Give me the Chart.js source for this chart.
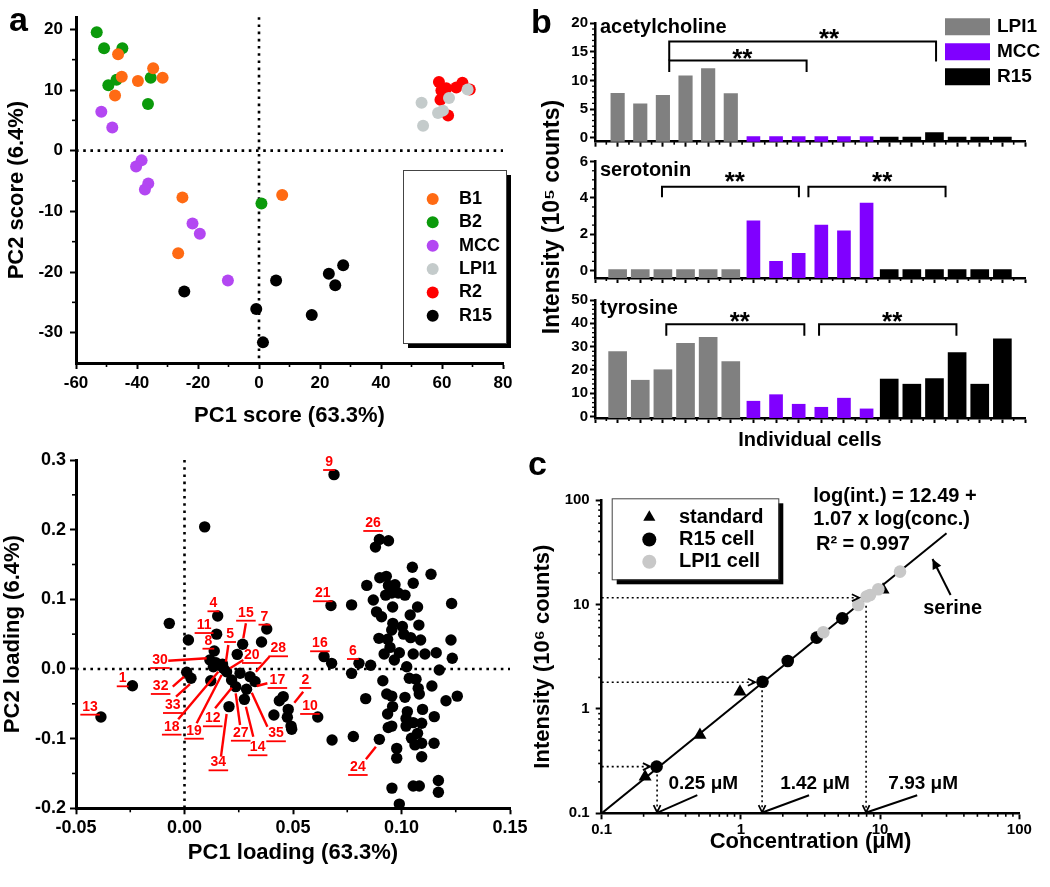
<!DOCTYPE html>
<html>
<head>
<meta charset="utf-8">
<script src="https://cdn.jsdelivr.net/npm/chart.js@4.4.1/dist/chart.umd.min.js"></script>
<style>
  body { margin: 0; background: #fff; }
  #fig { position: relative; width: 1050px; height: 887px; overflow: hidden; background: #fff; }
  #fig canvas { position: absolute; }
</style>
</head>
<body>
<div id="fig">
  <canvas id="scores" width="530" height="440" style="left:0px;top:0px"></canvas>
  <canvas id="ach" width="520" height="460" style="left:530px;top:0px"></canvas>
  <canvas id="ser" width="520" height="460" style="left:530px;top:0px"></canvas>
  <canvas id="tyr" width="520" height="460" style="left:530px;top:0px"></canvas>
  <canvas id="loading" width="540" height="457" style="left:0px;top:430px"></canvas>
  <canvas id="calib" width="530" height="457" style="left:520px;top:430px"></canvas>
</div>
<script>
// ---- panel a: PCA scores ----
const scoreGroups = ['B1', 'B2', 'MCC', 'LPI1', 'R2', 'R15'];
const scoreColors = ['#ff6a13', '#0b9a0b', '#b347f2', '#c4cbcb', '#ff0000', '#000000'];
const scoreB1 = [[-46.2, 15.9], [-45.0, 12.2], [-47.2, 9.1], [-39.7, 11.5], [-34.7, 13.6], [-31.6, 12.0], [-25.1, -7.7], [-26.5, -16.9], [7.6, -7.3]];
const scoreB2 = [[-53.2, 19.5], [-50.8, 16.9], [-44.8, 16.9], [-49.4, 10.8], [-46.7, 11.7], [-35.5, 12.0], [-36.4, 7.7], [0.8, -8.7]];
const scoreMCC = [[-51.7, 6.4], [-48.1, 3.8], [-40.3, -2.6], [-38.5, -1.6], [-36.3, -5.4], [-37.4, -6.4], [-21.8, -12.0], [-19.4, -13.7], [-10.2, -21.4]];
const scoreLPI1 = [[53.3, 7.9], [53.8, 4.1], [58.7, 6.2], [60.3, 6.6], [62.3, 8.7], [68.4, 10.1]];
const scoreR2 = [[59.0, 11.3], [59.8, 9.9], [59.5, 8.4], [61.4, 10.3], [62.0, 5.8], [64.7, 10.4], [66.7, 11.2], [69.1, 10.1]];
const scoreR15 = [[-24.5, -23.2], [-0.9, -26.1], [1.3, -31.6], [5.6, -21.4], [17.3, -27.1], [22.9, -20.3], [25.0, -22.2], [27.6, -18.9]];
const scoreXTicks = [-60, -40, -20, 0, 20, 40, 60, 80];
const scoreYTicks = [-30, -20, -10, 0, 10, 20];

// ---- panel b: single-cell intensities (10^5 counts) ----
const cellGroups = ['LPI1', 'MCC', 'R15'];
const cellColors = ['#808080', '#8000ff', '#000000'];
const achLPI1 = [7.75, 5.9, 7.4, 10.8, 12.1, 7.7];
const achMCC = [0.2, 0.2, 0.2, 0.2, 0.2, 0.2];
const achR15 = [0.1, 0.1, 0.9, 0.1, 0.1, 0.1];
const serLPI1 = [0.04, 0.04, 0.04, 0.04, 0.04, 0.04];
const serMCC = [2.73, 0.5, 0.94, 2.5, 2.18, 3.72];
const serR15 = [0.04, 0.04, 0.04, 0.04, 0.04, 0.04];
const tyrLPI1 = [27.9, 15.6, 20.1, 31.4, 34.0, 23.6];
const tyrMCC = [6.6, 9.4, 5.3, 4.0, 7.9, 3.3];
const tyrR15 = [16.1, 13.9, 16.3, 27.4, 13.9, 33.3];
const achTicks = [0, 5, 10, 15, 20];
const serTicks = [0, 2, 4, 6];
const tyrTicks = [0, 10, 20, 30, 40, 50];
const cellTicks = [0, 1, 2, 3, 4, 5, 6, 7, 8, 9, 10, 11, 12, 13, 14, 15, 16, 17, 18, 19];
// brackets: [x1, x2, y, left leg end, right leg end]; stars: [x, y]
const achBrackets = [[3.28, 15.07, 16.8, 13.5, 13.3], [3.28, 9.35, 13.5, 11.5, 11.5]];
const achStars = [[10.34, 18.5], [6.51, 15.0]];
const serBrackets = [[2.96, 9.01, 4.62, 4.04, 4.04], [9.43, 15.49, 4.62, 4.04, 4.04]];
const serStars = [[6.18, 5.27], [12.69, 5.27]];
const tyrBrackets = [[3.15, 9.25, 39.6, 34.7, 34.7], [9.9, 15.97, 39.6, 34.7, 34.7]];
const tyrStars = [[6.4, 43.7], [13.13, 43.7]];

// ---- loading plot ----
const loadingPoints = [
  [0.0689, 0.279], [0.0093, 0.204], [-0.0385, -0.069], [-0.024, -0.024], [-0.007, 0.0655], [0.0018, 0.0416],
  [0.0153, 0.076], [0.0148, 0.050], [0.0137, 0.0258], [0.0117, 0.013], [0.0379, 0.0574], [0.0355, 0.0387],
  [0.0268, 0.0354], [0.0243, 0.021], [0.016, 0.0057], [0.0179, 0.001], [0.0194, -0.004], [0.0133, 0.0033],
  [0.0175, 0.007], [0.0145, 0.009], [0.001, -0.0048], [0.003, -0.0134], [0.0121, -0.0168], [0.0217, -0.0158],
  [0.0256, -0.0062], [0.0302, -0.011], [0.0325, -0.018], [0.0236, -0.0254], [0.0286, -0.029], [0.0276, -0.0436],
  [0.0205, -0.054], [0.0437, -0.0455], [0.0455, -0.0397], [0.0478, -0.058], [0.0412, -0.066], [0.0474, -0.0694],
  [0.0494, -0.0866], [0.0491, -0.082], [0.0614, -0.069], [0.0643, 0.0177], [0.0678, 0.0081], [0.0675, 0.091],
  [0.068, -0.102], [0.077, 0.092], [0.077, -0.0063], [0.0804, 0.0081], [0.0778, -0.097], [0.0835, -0.0426],
  [0.0858, 0.0053], [0.0898, -0.101], [0.084, 0.120], [0.087, 0.099], [0.0898, 0.186], [0.088, 0.175],
  [0.094, 0.184], [0.090, 0.131], [0.093, 0.133], [0.094, 0.120], [0.0927, 0.106], [0.0955, 0.109],
  [0.097, 0.121], [0.0985, 0.109], [0.1016, 0.106], [0.105, 0.146], [0.1054, 0.123], [0.1136, 0.136],
  [0.1074, 0.089], [0.0959, 0.089], [0.0885, 0.082], [0.0908, 0.075], [0.096, 0.0655], [0.0955, 0.056],
  [0.1004, 0.061], [0.104, 0.0775], [0.108, 0.063], [0.101, 0.050], [0.1042, 0.045], [0.1088, 0.0416],
  [0.0896, 0.044], [0.0936, 0.0426], [0.0947, 0.031], [0.092, 0.0215], [0.099, 0.0234], [0.0967, 0.0129],
  [0.1054, 0.0215], [0.1108, 0.0215], [0.116, 0.0234], [0.1231, 0.094], [0.1228, 0.0416], [0.1234, 0.0153],
  [0.1024, 0.0033], [0.1036, -0.0134], [0.1067, -0.0148], [0.0914, -0.0168], [0.1174, -0.0014], [0.1077, -0.0278],
  [0.1082, -0.036], [0.114, -0.0244], [0.0932, -0.036], [0.0955, -0.039], [0.1016, -0.0407], [0.1205, -0.0455],
  [0.1257, -0.039], [0.0959, -0.054], [0.0936, -0.0646], [0.1027, -0.0612], [0.1097, -0.058], [0.1021, -0.071],
  [0.1054, -0.077], [0.1093, -0.078], [0.1151, -0.0684], [0.0955, -0.082], [0.0939, -0.084], [0.1021, -0.082],
  [0.1074, -0.0924], [0.1046, -0.0995], [0.1093, -0.1067], [0.1062, -0.109], [0.115, -0.1067], [0.0978, -0.114],
  [0.0978, -0.128], [0.1093, -0.126], [0.1054, -0.168], [0.1082, -0.168], [0.117, -0.160], [0.117, -0.177],
  [0.0956, -0.171], [0.099, -0.194]
];
const loadingLabels = [
  ['9', 0.0666, 0.2971], ['26', 0.0869, 0.2096], ['21', 0.0637, 0.1087], ['16', 0.0624, 0.0369],
  ['6', 0.0776, 0.0258], ['2', 0.0557, -0.0158], ['10', 0.0578, -0.0531], ['24', 0.0799, -0.1407],
  ['13', -0.0435, -0.0541], ['1', -0.0285, -0.0134], ['4', 0.0133, 0.0943], ['11', 0.0090, 0.0631],
  ['15', 0.0283, 0.0808], ['7', 0.0368, 0.0751], ['5', 0.0210, 0.0502], ['8', 0.0110, 0.0406],
  ['28', 0.0432, 0.0297], ['20', 0.0310, 0.0201], ['30', -0.0113, 0.0129], ['17', 0.0428, -0.0158],
  ['32', -0.0110, -0.0244], ['33', -0.0054, -0.0517], ['12', 0.0130, -0.0708], ['18', -0.0059, -0.0828],
  ['19', 0.0044, -0.0886], ['27', 0.0259, -0.0915], ['35', 0.0422, -0.0923], ['14', 0.0337, -0.1124],
  ['34', 0.0156, -0.1340]
];
const loadingLeaders = [
  [-0.0075, 0.0119, 0.0102, 0.0153], [-0.0054, -0.0254, -0.0002, -0.0111], [-0.0039, -0.0398, 0.0025, -0.0216],
  [-0.0029, -0.0722, 0.0156, -0.0039], [0.0056, -0.0780, 0.0171, -0.0086], [0.0141, -0.0564, 0.0218, -0.0269],
  [0.0168, -0.1259, 0.0194, -0.0646], [0.0256, -0.0804, 0.0236, -0.0349], [0.0317, -0.0972, 0.0283, -0.0541],
  [0.0382, -0.0828, 0.0310, -0.0340], [0.0382, -0.0205, 0.0333, -0.0244], [0.0391, 0.0176, 0.0329, -0.0039],
  [0.0271, 0.0129, 0.0210, 0.0010], [0.0202, 0.0344, 0.0191, 0.0105], [0.0283, 0.0656, 0.0271, 0.0440],
  [0.0547, -0.0326, 0.0506, -0.0484], [0.0836, -0.1296, 0.0882, -0.1116]
];
const loadXTicks = [-0.05, 0, 0.05, 0.10, 0.15];
const loadYTicks = [-0.2, -0.1, 0, 0.1, 0.2, 0.3];

// ---- panel c: serine calibration (uM, 10^6 counts) ----
const stdConc = [0.205, 0.508, 0.985, 10.5];
const stdInt = [0.224, 0.562, 1.46, 13.8];
const r15Conc = [0.248, 1.43, 2.17, 3.50, 5.35];
const r15Int = [0.28, 1.82, 2.87, 4.81, 7.36];
const lpiConc = [3.91, 6.97, 8.0, 8.46, 9.71, 13.9];
const lpiInt = [5.41, 9.89, 11.9, 12.3, 13.96, 20.6];
const fitConc = [0.1, 30];
const fitInt = [0.1, 48];
const guideConc = [0.25, 1.42, 7.93];
const guideInt = [0.28, 1.80, 11.6];
const guideLabels = ['0.25 μM', '1.42 μM', '7.93 μM'];
// label centres (conc, intensity); each label has a pointer line to its foot on the x axis
const guideLabelConc = [0.537, 3.41, 20.4];
const guideLabelInt = [0.19, 0.19, 0.19];
const calibTicks = [0.1, 1, 10, 100];

const FONT = 'Arial, "Liberation Sans", Helvetica, sans-serif';
Chart.defaults.font.family = FONT;
Chart.defaults.font.weight = 'bold';
Chart.defaults.color = '#000';
Chart.defaults.animation = false;

const toXY = pairs => pairs.map(p => ({x: p[0], y: p[1]}));
const zipXY = (xs, ys) => xs.map((x, i) => ({x, y: ys[i]}));
const between = (ticks, n) => {
  const out = [];
  for (let i = 0; i < ticks.length - 1; i++)
    for (let k = 1; k < n; k++) out.push(ticks[i] + (ticks[i + 1] - ticks[i]) * k / n);
  return out;
};
const logMinors = (lo, hi) => {
  const out = [];
  for (let d = lo; d < hi; d *= 10) for (let k = 2; k <= 9; k++) out.push(d * k);
  return out;
};

function axis(o) {
  return {
    type: o.type || 'linear', min: o.min, max: o.max, offset: false,
    afterBuildTicks: s => { s.ticks = o.ticks.map(v => ({value: v})); },
    afterFit: s => { if (s.isHorizontal()) s.height = o.size; else s.width = o.size; },
    border: {display: true, width: o.border || 3, color: '#000'},
    grid: {display: true, drawOnChartArea: false, drawTicks: true, offset: false,
           tickLength: o.tickLen || 6, tickWidth: 2, tickColor: '#000'},
    ticks: {autoSkip: false, maxRotation: 0, padding: o.pad, color: '#000',
            font: {size: o.fontSize, weight: 'bold'}, callback: o.fmt || (v => String(v))},
    title: o.title ? {display: true, text: o.title, color: '#000',
                      font: {size: o.titleSize || 22, weight: 'bold'}, padding: o.titlePad}
                   : {display: false}
  };
}

function arrowHead(ctx, x, y, ang, len, filled) {
  const a1 = ang + Math.PI - 0.45, a2 = ang + Math.PI + 0.45;
  ctx.beginPath();
  ctx.moveTo(x + Math.cos(a1) * len, y + Math.sin(a1) * len);
  ctx.lineTo(x, y);
  ctx.lineTo(x + Math.cos(a2) * len, y + Math.sin(a2) * len);
  if (filled) { ctx.closePath(); ctx.fill(); } else ctx.stroke();
}

function symbol(ctx, style, x, y, r, color) {
  ctx.fillStyle = color;
  ctx.beginPath();
  if (style === 'triangle') {
    for (let k = 0; k < 3; k++) {
      const a = k * 2 * Math.PI / 3;
      const px = x + Math.sin(a) * r, py = y - Math.cos(a) * r;
      if (k === 0) ctx.moveTo(px, py); else ctx.lineTo(px, py);
    }
    ctx.closePath();
  } else if (style === 'rect') {
    ctx.rect(x, y - 8.5, 45, 17);
  } else {
    ctx.arc(x, y, r, 0, 2 * Math.PI);
  }
  ctx.fill();
}

function text(ctx, t, x, y, f) {
  ctx.save();
  ctx.font = `bold ${f.size}px ${FONT}`;
  ctx.fillStyle = f.color || '#000';
  ctx.textAlign = f.align || 'left';
  ctx.textBaseline = f.baseline || 'middle';
  ctx.translate(x, y);
  if (f.rotate) ctx.rotate(f.rotate);
  ctx.fillText(t, 0, 0);
  if (f.underline) {
    const w = ctx.measureText(t).width;
    const x0 = f.align === 'center' ? -w / 2 : 0;
    ctx.strokeStyle = f.color || '#000';
    ctx.lineWidth = 1.8;
    ctx.beginPath();
    ctx.moveTo(x0 - 2, f.size * 0.5 + 1);
    ctx.lineTo(x0 + w + 2, f.size * 0.5 + 1);
    ctx.stroke();
  }
  ctx.restore();
}

const deco = {
  id: 'deco',
  beforeDatasetsDraw(chart, args, o) {
    const {ctx, chartArea: a, scales: {x, y}} = chart;
    ctx.save();
    ctx.strokeStyle = '#000';
    ctx.lineWidth = 2.6;
    ctx.setLineDash([2.6, 4.6]);
    (o.zero || []).forEach(ax => {
      ctx.beginPath();
      if (ax === 'x') { const p = x.getPixelForValue(0); ctx.moveTo(p, a.top); ctx.lineTo(p, a.bottom); }
      else { const p = y.getPixelForValue(0); ctx.moveTo(a.left, p); ctx.lineTo(a.right, p); }
      ctx.stroke();
    });
    ctx.restore();
  },
  afterDatasetsDraw(chart, args, o) {
    const {ctx, chartArea: a, scales: {x, y}} = chart;
    const X = v => x.getPixelForValue(v), Y = v => y.getPixelForValue(v);
    ctx.save();
    ctx.strokeStyle = '#000';
    ctx.fillStyle = '#000';
    // minor ticks
    (o.minor || []).forEach(m => {
      const s = chart.scales[m.axis];
      ctx.lineWidth = m.width || 1.6;
      m.values.forEach(v => {
        const p = s.getPixelForValue(v);
        ctx.beginPath();
        if (m.axis === 'x') { ctx.moveTo(p, a.bottom); ctx.lineTo(p, a.bottom + m.len); }
        else { ctx.moveTo(a.left, p); ctx.lineTo(a.left - m.len, p); }
        ctx.stroke();
      });
    });
    // significance brackets
    ctx.lineWidth = 2;
    ctx.strokeStyle = '#000';
    (o.brackets || []).forEach(b => {
      ctx.beginPath();
      ctx.moveTo(X(b[0]), Y(b[3]));
      ctx.lineTo(X(b[0]), Y(b[2]));
      ctx.lineTo(X(b[1]), Y(b[2]));
      ctx.lineTo(X(b[1]), Y(b[4]));
      ctx.stroke();
    });
    (o.stars || []).forEach(s => text(ctx, '**', X(s[0]), Y(s[1]) + 26 * 0.57,
                                      {size: 26, align: 'center', baseline: 'alphabetic'}));
    // guide arrows (dotted) to the axes
    (o.guides || []).forEach(g => {
      const gx = X(g[0]), gy = Y(g[1]);
      ctx.strokeStyle = '#000';
      ctx.lineWidth = 1.6;
      ctx.setLineDash([2, 3]);
      ctx.beginPath(); ctx.moveTo(a.left, gy); ctx.lineTo(gx - 8, gy); ctx.stroke();
      ctx.beginPath(); ctx.moveTo(gx, gy + 8); ctx.lineTo(gx, a.bottom - 1); ctx.stroke();
      ctx.setLineDash([]);
      ctx.lineWidth = 1.8;
      arrowHead(ctx, gx - 7, gy, 0, 8, false);
      arrowHead(ctx, gx, a.bottom - 1, Math.PI / 2, 8, false);
    });
    // labels with a pointer line from just below the text to the foot of the guide
    (o.guideLabels || []).forEach(gl => {
      const lx = X(gl.x), ly = Y(gl.y), fx = X(gl.foot);
      text(ctx, gl.t, lx, ly, {size: 19, align: 'center'});
      ctx.strokeStyle = '#000';
      ctx.lineWidth = 2;
      ctx.beginPath();
      ctx.moveTo(lx - 6, ly + 11);
      ctx.lineTo(fx + 1, a.bottom - 1);
      ctx.stroke();
    });
    // straight segments
    (o.segments || []).forEach(sg => {
      const p = sg.p;
      ctx.strokeStyle = sg.color || '#000';
      ctx.fillStyle = sg.color || '#000';
      ctx.lineWidth = sg.width || 2;
      ctx.beginPath(); ctx.moveTo(X(p[0]), Y(p[1])); ctx.lineTo(X(p[2]), Y(p[3])); ctx.stroke();
      if (sg.head) {
        const ang = Math.atan2(Y(p[3]) - Y(p[1]), X(p[2]) - X(p[0]));
        arrowHead(ctx, X(p[2]), Y(p[3]), ang, sg.head, sg.filled);
      }
    });
    // texts in data coordinates
    (o.texts || []).forEach(t => text(ctx, t.t, X(t.x), Y(t.y), t));
    // texts in canvas pixels
    (o.ptexts || []).forEach(t => text(ctx, t.t, t.x, t.y, t));
    // legend
    const L = o.legend;
    if (L) {
      if (L.box) {
        const [bl, bt, bw, bh] = L.box;
        ctx.fillStyle = '#000';
        ctx.fillRect(bl + 5, bt + 5, bw, bh);
        ctx.fillStyle = '#fff';
        ctx.fillRect(bl, bt, bw, bh);
        ctx.strokeStyle = '#444';
        ctx.lineWidth = 1;
        ctx.strokeRect(bl + 0.5, bt + 0.5, bw, bh);
      }
      L.items.forEach((di, k) => {
        const ds = chart.data.datasets[di];
        const yy = L.y0 + k * L.dy;
        symbol(ctx, L.style || ds.pointStyle || 'circle', L.symX, yy, L.r || 6, ds.backgroundColor);
        text(ctx, ds.label, L.textX, yy, {size: L.size});
      });
    }
    ctx.restore();
  }
};
Chart.register(deco);

const baseOptions = (padding, scales, decoOpts) => ({
  responsive: false,
  animation: false,
  events: [],
  layout: {padding},
  plugins: {legend: {display: false}, tooltip: {enabled: false}, deco: decoOpts},
  scales
});

// ---------- panel a ----------
const scoreSets = [scoreB1, scoreB2, scoreMCC, scoreLPI1, scoreR2, scoreR15];
new Chart(document.getElementById('scores'), {
  type: 'scatter',
  data: {
    datasets: scoreSets.map((pts, i) => ({
      label: scoreGroups[i], data: toXY(pts), backgroundColor: scoreColors[i],
      borderWidth: 0, pointRadius: 6, pointStyle: 'circle'
    }))
  },
  options: baseOptions({left: 0, top: 14.5, right: 27, bottom: 0}, {
    x: axis({min: -60, max: 80, ticks: scoreXTicks, size: 77, fontSize: 17, pad: 4,
             title: 'PC1 score (63.3%)', titlePad: {top: 0, bottom: 10.8}}),
    y: axis({min: -35, max: 22, ticks: scoreYTicks, size: 76, fontSize: 17, pad: 7,
             title: 'PC2 score (6.4%)', titlePad: {top: 3.5, bottom: 0}})
  }, {
    zero: ['x', 'y'],
    minor: [{axis: 'x', values: between(scoreXTicks, 2), len: 4},
            {axis: 'y', values: between(scoreYTicks, 2), len: 4}],
    legend: {box: [403, 170, 103, 173], symX: 432.7, textX: 459, y0: 199, dy: 23.35, size: 18,
             items: [0, 1, 2, 3, 4, 5]},
    ptexts: [{t: 'a', x: 9, y: 31, size: 34, baseline: 'alphabetic'}]
  })
});

// ---------- panel b ----------
function cellChart(id, groups, widths, ticks, yMin, yMax, minorN, pad, xSize, extra) {
  return new Chart(document.getElementById(id), {
    type: 'bar',
    data: {
      datasets: groups.map((vals, g) => ({
        label: cellGroups[g],
        data: vals.map((v, i) => ({x: g * 6 + i + 1, y: v})),
        backgroundColor: cellColors[g], borderWidth: 0,
        barThickness: widths[g], base: yMin, grouped: false
      }))
    },
    options: baseOptions(pad, {
      x: axis({min: 0, max: 19, ticks: cellTicks, size: xSize, fontSize: 14, pad: 0, tickLen: 5,
               border: 2.5, fmt: () => '', title: extra.xTitle,
               titleSize: 20, titlePad: {top: 0, bottom: 7.3}}),
      y: axis({min: yMin, max: yMax, ticks: ticks, size: 65, fontSize: 15, pad: 2, tickLen: 5, border: 2.5})
    }, Object.assign({
      minor: [{axis: 'x', values: between(cellTicks, 2), len: 3},
              {axis: 'y', values: between(ticks, minorN), len: 3, width: 1.3}]
    }, extra.deco))
  });
}

cellChart('ach', [achLPI1, achMCC, achR15], [13.5, 13, 18], achTicks, -0.7, 20, 5,
  {left: 0, top: 23.3, right: 25, bottom: 308.3}, 10, {
    deco: {
      brackets: achBrackets, stars: achStars,
      texts: [{t: 'acetylcholine', x: 0.22, y: 19.35, size: 20}],
      legend: {style: 'rect', symX: 415, textX: 467, y0: 26.7, dy: 25, size: 19, items: [0, 1, 2]},
      ptexts: [{t: 'b', x: 1, y: 33, size: 34, baseline: 'alphabetic'}]
    }
  });
cellChart('ser', [serLPI1, serMCC, serR15], [18, 13, 18], serTicks, -0.42, 6, 4,
  {left: 0, top: 161.7, right: 25, bottom: 172}, 10, {
    deco: {
      brackets: serBrackets, stars: serStars,
      texts: [{t: 'serotonin', x: 0.22, y: 5.54, size: 20}],
      ptexts: [{t: 'Intensity (10⁵ counts)', x: 23, y: 217, size: 23, align: 'center', rotate: -Math.PI / 2}]
    }
  });
cellChart('tyr', [tyrLPI1, tyrMCC, tyrR15], [18, 13, 18], tyrTicks, -0.6, 50, 5,
  {left: 0, top: 300, right: 25, bottom: 0}, 42, {
    xTitle: 'Individual cells',
    deco: {
      brackets: tyrBrackets, stars: tyrStars,
      texts: [{t: 'tyrosine', x: 0.22, y: 46.2, size: 20}]
    }
  });

// ---------- loading plot ----------
new Chart(document.getElementById('loading'), {
  type: 'scatter',
  data: {
    datasets: [{label: 'loadings', data: toXY(loadingPoints), backgroundColor: '#000',
                borderWidth: 0, pointRadius: 5.7}]
  },
  options: baseOptions({left: 0, top: 30, right: 30, bottom: 0}, {
    x: axis({min: -0.05, max: 0.15, ticks: loadXTicks, size: 78.7, fontSize: 18, pad: 3,
             fmt: v => v.toFixed(2), title: 'PC1 loading (63.3%)', titlePad: {top: 0, bottom: 20.8}}),
    y: axis({min: -0.2, max: 0.3, ticks: loadYTicks, size: 76, fontSize: 18, pad: 4,
             fmt: v => v.toFixed(1), title: 'PC2 loading (6.4%)', titlePad: {top: 0, bottom: 0}})
  }, {
    zero: ['x', 'y'],
    minor: [{axis: 'x', values: between(loadXTicks, 2), len: 4},
            {axis: 'y', values: between(loadYTicks, 2), len: 4}],
    segments: loadingLeaders.map(p => ({p, color: '#ff0000', width: 2.4})),
    texts: loadingLabels.map(l => ({t: l[0], x: l[1], y: l[2], size: 14, align: 'center',
                                    color: '#ff0000', underline: true}))
  })
});

// ---------- panel c ----------
new Chart(document.getElementById('calib'), {
  type: 'scatter',
  data: {
    datasets: [
      {label: 'standard', data: zipXY(stdConc, stdInt), backgroundColor: '#000', borderWidth: 0,
       pointStyle: 'triangle', pointRadius: 7.5, order: 3},
      {label: 'R15 cell', data: zipXY(r15Conc, r15Int), backgroundColor: '#000', borderWidth: 0,
       pointStyle: 'circle', pointRadius: 6.3, order: 2},
      {label: 'LPI1 cell', data: zipXY(lpiConc, lpiInt), backgroundColor: '#c8c8c8', borderWidth: 0,
       pointStyle: 'circle', pointRadius: 6.3, order: 1},
      {label: 'fit', data: zipXY(fitConc, fitInt), showLine: true, borderColor: '#000', borderWidth: 2,
       pointRadius: 0, backgroundColor: '#000', order: 4}
    ]
  },
  options: baseOptions({left: 0, top: 70, right: 30.7, bottom: 0}, {
    x: axis({type: 'logarithmic', min: 0.1, max: 100, ticks: calibTicks, size: 73.7, fontSize: 15, pad: 2,
             border: 2.5, title: 'Concentration (μM)', titlePad: {top: 0, bottom: 31.5}}),
    y: axis({type: 'logarithmic', min: 0.1, max: 100, ticks: calibTicks, size: 81.7, fontSize: 15, pad: 6,
             border: 2.5, title: 'Intensity (10⁶ counts)', titlePad: {top: 9.8, bottom: 0}})
  }, {
    minor: [{axis: 'x', values: logMinors(0.1, 100), len: 3.5},
            {axis: 'y', values: logMinors(0.1, 100), len: 3.5}],
    guides: guideConc.map((c, i) => [c, guideInt[i]]),
    guideLabels: guideLabels.map((t, i) => ({t, x: guideLabelConc[i], y: guideLabelInt[i], foot: guideConc[i]})),
    segments: [
      {p: [32.1, 12.3, 23.8, 27.2], width: 2, head: 11, filled: true}
    ],
    texts: [
      {t: 'log(int.) = 12.49 +', x: 3.31, y: 109, size: 20},
      {t: '1.07 x log(conc.)', x: 3.31, y: 65.3, size: 20},
      {t: 'R² = 0.997', x: 3.46, y: 37.7, size: 20},
      {t: 'serine', x: 20.4, y: 9.06, size: 20}
    ],
    legend: {box: [91.7, 68.3, 166.6, 81], symX: 129.3, textX: 159, y0: 87.3, dy: 22.2, size: 20,
             r: 7, items: [0, 1, 2]},
    ptexts: [{t: 'c', x: 8, y: 45, size: 34, baseline: 'alphabetic'}]
  })
});
</script>
</body>
</html>
